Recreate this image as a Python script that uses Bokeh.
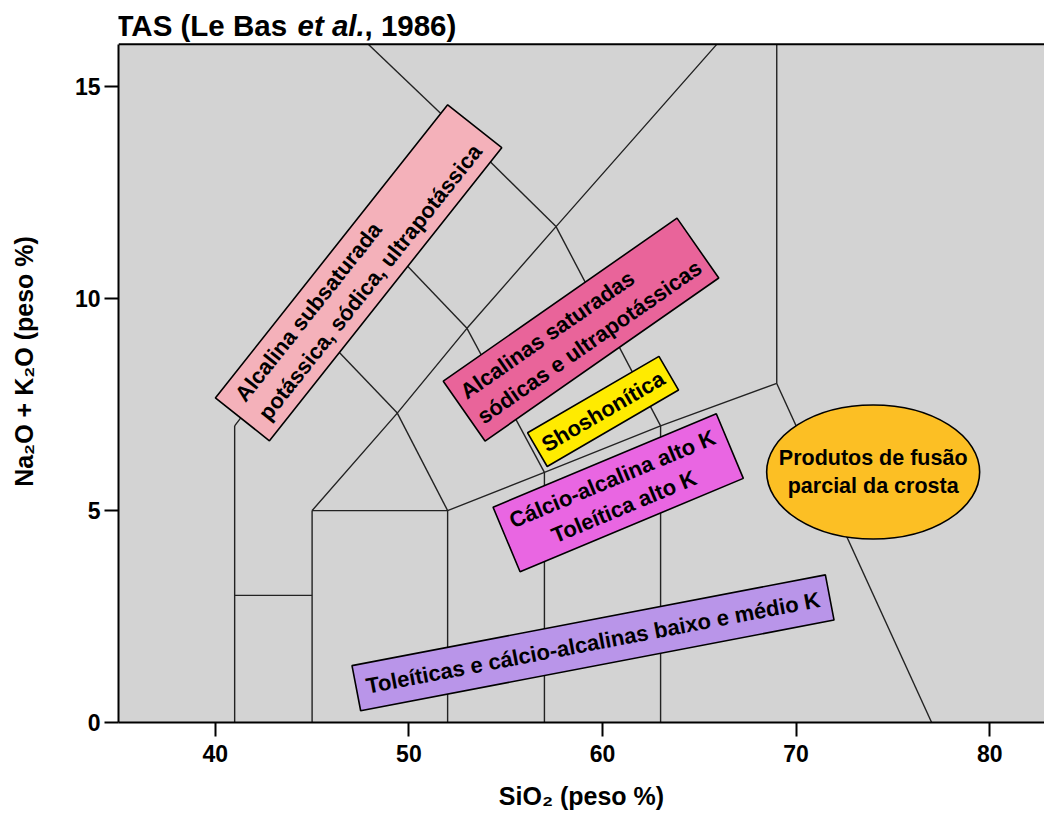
from bokeh.plotting import figure
from bokeh.models import Range1d, Label, FixedTicker, Span, BoxAnnotation
from bokeh.core.properties import value
from bokeh.embed import file_html
from bokeh.resources import INLINE

FONT = "Liberation Sans"

# ---- TAS field boundaries (SiO2 wt%, Na2O+K2O wt%) ----
boundary_sio2 = [
    [41, 41], [41, 45], [45, 45], [45, 52], [52, 52], [57, 57], [63, 63],
    [52, 57, 63, 69], [69, 69], [69, 77],
    [45, 49.4, 53, 57.6, 65.9],
    [41, 45, 48.4, 52.5],
    [49.4, 52], [45, 49.4], [48.4, 53], [53, 57], [57.6, 63],
    [52.5, 57.6], [52.5, 47.9],
]
boundary_alk = [
    [0, 7], [3, 3], [0, 5], [5, 5], [0, 5], [0, 5.9], [0, 7],
    [5, 5.9, 7, 8], [8, 16], [8, 0],
    [5, 7.3, 9.3, 11.7, 16],
    [7, 9.4, 11.5, 14],
    [7.3, 5], [9.4, 7.3], [11.5, 9.3], [9.3, 5.9], [11.7, 7],
    [14, 11.7], [14, 16],
]

# ---- series labels (anchor in SiO2 / alkali coordinates) ----
series_names = [
    "Alcalina subsaturada\npotássica, sódica, ultrapotássica",
    "Alcalinas saturadas\nsódicas e ultrapotássicas",
    "Shoshonítica",
    "Cálcio-alcalina alto K\nToleítica alto K",
    "Toleíticas e cálcio-alcalinas baixo e médio K",
]
series_sio2 = [47.40, 58.89, 60.03, 60.81, 59.51]
series_alk = [10.61, 9.27, 7.34, 5.42, 1.88]

crust_name = "Produtos de fusão\nparcial da crosta"
crust_sio2 = [73.98]
crust_alk = [5.91]

x_ticks = [40, 50, 60, 70, 80]
y_ticks = [0, 5, 10, 15]
diagram_top = 16

# ---- styles (screen sizes) ----
box_colors = ["#F4B1BA", "#E9649A", "#FFEB00", "#E966E2", "#B995E9"]
box_w = [374, 285, 152, 242, 482]
box_h = [69, 73, 39, 70, 46]
box_angle = [51.6, 34.9, 30.2, 22.7, 10.85]
box_align = ["left", "left", "center", "center", "center"]

p = figure(width=1044, height=812, output_backend="svg", toolbar_location=None,
           x_range=Range1d(35, 82.83), y_range=Range1d(0, 17.035),
           min_border_left=118, min_border_right=0, min_border_top=0,
           min_border_bottom=88)
p.background_fill_color = "white"
p.border_fill_color = "white"
p.outline_line_color = None
p.grid.visible = False

p.add_layout(BoxAnnotation(bottom=0, top=diagram_top, fill_color="#D3D3D3",
                           fill_alpha=1, line_color=None, level="underlay"))

for ax in (p.xaxis[0], p.yaxis[0]):
    ax.axis_line_width = 2
    ax.axis_line_color = "black"
    ax.major_tick_line_width = 2
    ax.major_tick_line_color = "black"
    ax.major_tick_in = 0
    ax.major_tick_out = 14
    ax.minor_tick_line_color = None
    ax.major_label_text_font = FONT
    ax.major_label_text_font_style = "bold"
    ax.major_label_text_font_size = "23px"
    ax.major_label_text_color = "black"
    ax.axis_label_text_font = FONT
    ax.axis_label_text_font_style = "bold"
    ax.axis_label_text_font_size = "25px"
    ax.axis_label_text_color = "black"

p.yaxis.bounds = (0, diagram_top)
p.xaxis.ticker = FixedTicker(ticks=x_ticks)
p.yaxis.ticker = FixedTicker(ticks=y_ticks)
p.xaxis.axis_label = "SiO₂ (peso %)"
p.yaxis.axis_label = "Na₂O + K₂O (peso %)"
p.xaxis.major_label_standoff = 8
p.yaxis.major_label_standoff = 4
p.xaxis.axis_label_standoff = 17
p.yaxis.axis_label_standoff = 34

p.add_layout(Span(location=diagram_top, dimension="width", line_color="black", line_width=2))

p.multi_line(boundary_sio2, boundary_alk, line_color="#222222", line_width=1.4)

for i, name in enumerate(series_names):
    p.rect(x=[series_sio2[i]], y=[series_alk[i]], width=box_w[i], height=box_h[i],
           width_units="screen", height_units="screen", angle=box_angle[i],
           angle_units="deg", fill_color=box_colors[i], line_color="black",
           line_width=1.6)
    p.text(x=[series_sio2[i]], y=[series_alk[i]], text=[name], angle=box_angle[i],
           angle_units="deg", anchor="center", text_align=box_align[i],
           text_baseline="middle", text_font=value(FONT), text_font_style="bold",
           text_font_size="22px", text_color="black", text_line_height=1.2)

p.ellipse(x=crust_sio2, y=crust_alk, width=213, height=134, width_units="screen",
          height_units="screen", fill_color="#FCBF24", line_color="black", line_width=1.6)
p.text(x=crust_sio2, y=crust_alk, text=[crust_name], anchor="center",
       text_align="center", text_baseline="middle", text_font=value(FONT),
       text_font_style="bold", text_font_size="21.5px", text_color="black",
       text_line_height=1.2)

# title pieces (mixed upright / italic)
title_parts = [("TAS (Le Bas ", "bold", 0), ("et al.", "bold italic", 182), (", 1986)", "bold", 249)]
for txt, style, off in title_parts:
    p.add_layout(Label(x=35, y=16.44, x_offset=off - 3, text=txt, text_font=FONT,
                       text_font_style=style, text_font_size="29.5px",
                       text_baseline="alphabetic", text_color="black"))

open("out.html", "w").write(file_html(p, INLINE))
